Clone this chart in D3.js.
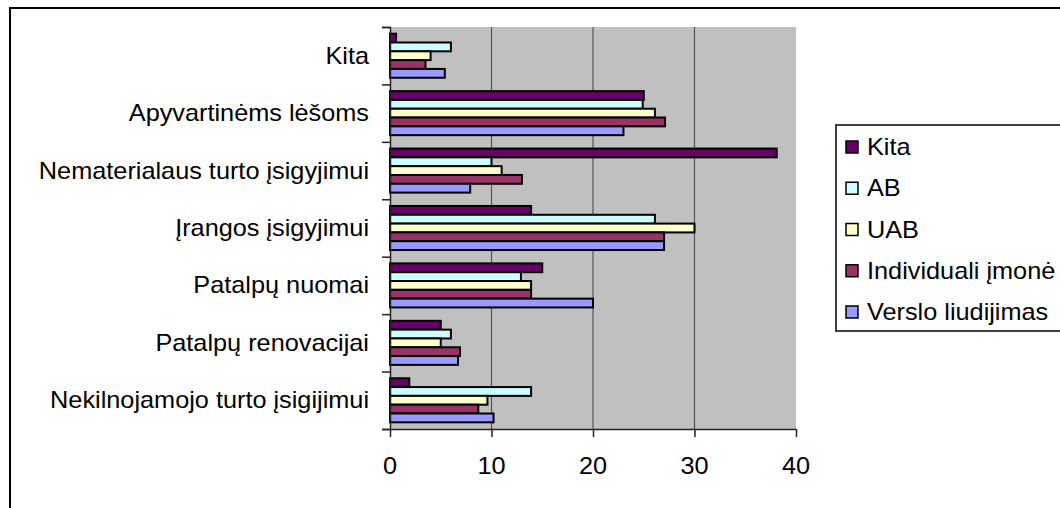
<!DOCTYPE html>
<html>
<head>
<meta charset="utf-8">
<script src="https://cdn.jsdelivr.net/npm/d3@7"></script>
<style>
  html, body { margin: 0; padding: 0; background: #fff; }
  svg { display: block; }
  text { font-family: "Liberation Sans", Arial, sans-serif; fill: #000; }
</style>
</head>
<body>
<svg id="chart" width="1060" height="508"></svg>
<script>
// Categories, bottom to top as in the chart
const categories = [
  "Nekilnojamojo turto įsigijimui",
  "Patalpų renovacijai",
  "Patalpų nuomai",
  "Įrangos įsigyjimui",
  "Nematerialaus turto įsigyjimui",
  "Apyvartinėms lėšoms",
  "Kita"
];
// Series (top to bottom within a group, also legend order)
const seriesNames = ["Kita", "AB", "UAB", "Individuali įmonė", "Verslo liudijimas"];
const kitaValues        = [1.9, 5.0, 15.0, 13.9, 38.1, 25.0, 0.6];
const abValues          = [13.9, 6.0, 12.9, 26.1, 10.0, 24.9, 6.0];
const uabValues         = [9.6, 5.0, 13.9, 30.0, 11.0, 26.1, 4.0];
const individualiValues = [8.7, 6.9, 13.9, 27.0, 13.0, 27.1, 3.5];
const versloValues      = [10.2, 6.7, 20.0, 27.0, 7.9, 23.0, 5.4];
const seriesColors = ["#660066", "#CCFFFF", "#FFFFCC", "#993366", "#9999FF"];
const xTicks = [0, 10, 20, 30, 40];

const seriesValues = [kitaValues, abValues, uabValues, individualiValues, versloValues];

const svg = d3.select("#chart");
const FS = 23, SX = 1.1;

// outer chart border (extends past right/bottom edges)
svg.append("rect").attr("x", 10).attr("y", 8).attr("width", 1200).attr("height", 700)
  .attr("fill", "#fff").attr("stroke", "#000").attr("stroke-width", 2);

const plot = { left: 390, right: 796, top: 27, bottom: 429 };

const x = d3.scaleLinear().domain([0, 40]).range([plot.left, plot.right]);
const y = d3.scaleBand().domain(categories.slice().reverse())
  .range([plot.top, plot.bottom]).paddingInner(0.233).paddingOuter(0.1165);
const ySub = d3.scaleBand().domain(seriesNames).range([0, y.bandwidth()]).padding(0);
const yEdges = d3.scaleLinear().domain([0, categories.length]).range([plot.bottom, plot.top]);

// plot background
svg.append("rect").attr("x", plot.left).attr("y", plot.top)
  .attr("width", plot.right - plot.left).attr("height", plot.bottom - plot.top)
  .attr("fill", "#C0C0C0");

// gridlines
svg.append("g").selectAll("line").data(xTicks.filter(d => d > 0 && d < 40)).join("line")
  .attr("x1", d => x(d)).attr("x2", d => x(d))
  .attr("y1", plot.top).attr("y2", plot.bottom)
  .attr("stroke", "#555").attr("stroke-width", 1.2);

// bars
const groups = svg.append("g").selectAll("g").data(seriesNames).join("g")
  .attr("fill", (d, i) => seriesColors[i]);
groups.each(function(name, si) {
  d3.select(this).selectAll("rect").data(categories).join("rect")
    .attr("x", x(0))
    .attr("y", (c) => y(c) + ySub(name))
    .attr("width", (c, ci) => x(seriesValues[si][ci]) - x(0))
    .attr("height", ySub.bandwidth())
    .attr("stroke", "#000").attr("stroke-width", 2);
});

// y axis (ticks at category boundaries)
const yAxis = svg.append("g").attr("transform", `translate(${plot.left},0)`)
  .call(d3.axisLeft(yEdges).tickValues(d3.range(0, categories.length + 1)).tickSize(8).tickFormat(""));
yAxis.selectAll("path, line").attr("stroke", "#222").attr("stroke-width", 1.5);

// x axis
const xAxis = svg.append("g").attr("transform", `translate(0,${plot.bottom})`)
  .call(d3.axisBottom(x).tickValues(xTicks).tickSizeInner(8).tickSizeOuter(0).tickFormat(""));
xAxis.selectAll("path, line").attr("stroke", "#222").attr("stroke-width", 1.5);

// x tick labels
svg.append("g").selectAll("text").data(xTicks).join("text")
  .attr("transform", d => `translate(${x(d)},${474}) scale(${SX},1)`)
  .attr("text-anchor", "middle").attr("font-size", FS)
  .text(d => d);

// category labels
svg.append("g").selectAll("text").data(categories).join("text")
  .attr("transform", c => `translate(369,${y(c) + y.bandwidth() / 2 + FS * 0.35}) scale(${SX},1)`)
  .attr("text-anchor", "end").attr("font-size", FS)
  .text(c => c);

// legend
const legend = svg.append("g");
legend.append("rect").attr("x", 836).attr("y", 125).attr("width", 240).attr("height", 206)
  .attr("fill", "#fff").attr("stroke", "#000").attr("stroke-width", 1.5);
const ly = d3.scalePoint().domain(seriesNames).range([147, 312]);
legend.selectAll("rect.sw").data(seriesNames).join("rect").attr("class", "sw")
  .attr("x", 846).attr("y", d => ly(d) - 6).attr("width", 12).attr("height", 12)
  .attr("fill", (d, i) => seriesColors[i]).attr("stroke", "#000").attr("stroke-width", 1.5);
legend.selectAll("text").data(seriesNames).join("text")
  .attr("transform", d => `translate(867,${ly(d) + FS * 0.35}) scale(${SX},1)`)
  .attr("font-size", FS)
  .text(d => d);
</script>
</body>
</html>
